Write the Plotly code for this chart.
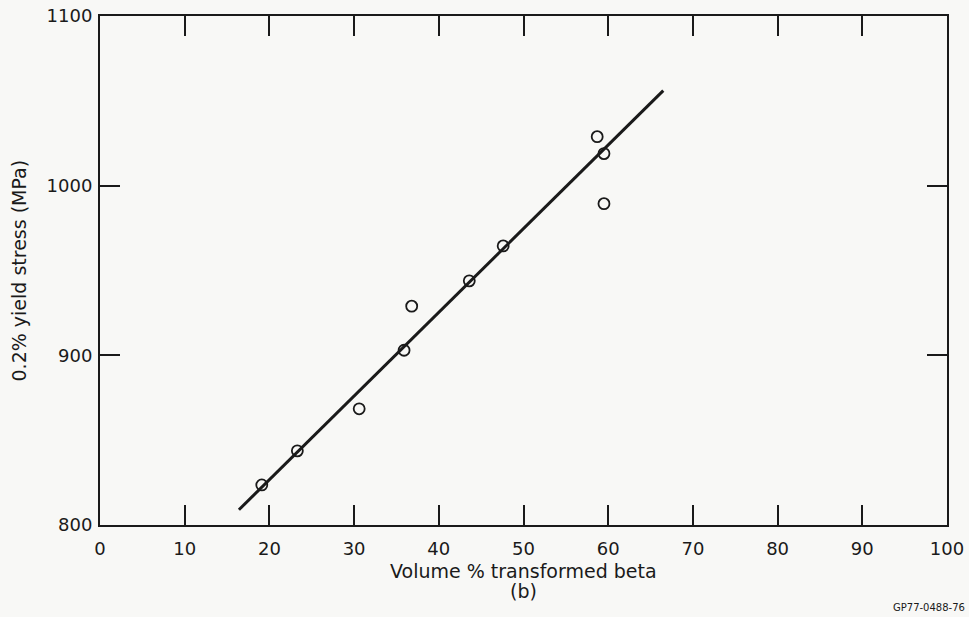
import plotly.graph_objects as go

# Data
vol_beta = [19.1, 23.3, 30.6, 35.9, 36.8, 43.6, 47.6, 58.7, 59.5, 59.5]
yield_stress = [823.6, 843.7, 868.5, 903.0, 929.0, 943.9, 964.5, 1028.9, 1018.9, 989.4]
fit_x = [16.4, 66.5]
fit_y = [809.0, 1056.0]
x_ticks = [0, 10, 20, 30, 40, 50, 60, 70, 80, 90, 100]
y_ticks = [800, 900, 1000, 1100]

FONT = "DejaVu Sans, Open Sans, sans-serif"
INK = "#1a1a1a"
BG = "#f8f8f6"

fig = go.Figure()
fig.add_trace(go.Scatter(x=fit_x, y=fit_y, mode="lines",
                         line=dict(color=INK, width=3), showlegend=False))
fig.add_trace(go.Scatter(x=vol_beta, y=yield_stress, mode="markers",
                         marker=dict(symbol="circle-open", size=11, color=INK,
                                     line=dict(width=1.8, color=INK)),
                         showlegend=False))

axis_common = dict(showgrid=False, zeroline=False, showline=True, linecolor=INK,
                   linewidth=2, mirror="ticks", ticks="inside", ticklen=20,
                   tickwidth=1.5, tickcolor=INK, automargin=False,
                   ticklabeloverflow="allow",
                   tickfont=dict(family=FONT, size=18, color=INK))

fig.update_xaxes(range=[0, 100], tickvals=x_ticks, ticklabelstandoff=6, **axis_common)
fig.update_yaxes(range=[800, 1100], tickvals=y_ticks, ticklabelstandoff=2, **axis_common)

title_font = dict(family=FONT, size=19, color=INK)
fig.add_annotation(text="Volume % transformed beta", xref="paper", yref="paper",
                   x=0.5, y=0, yanchor="middle", yshift=-46, showarrow=False,
                   font=title_font)
fig.add_annotation(text="(b)", xref="paper", yref="paper",
                   x=0.5, y=0, yanchor="middle", yshift=-66, showarrow=False,
                   font=title_font)
fig.add_annotation(text="0.2% yield stress (MPa)", xref="paper", yref="paper",
                   x=0, y=0.5, xanchor="center", xshift=-82, textangle=-90,
                   showarrow=False, font=title_font)
fig.add_annotation(text="GP77-0488-76", xref="paper", yref="paper", x=1, y=0,
                   xanchor="right", yanchor="bottom", xshift=20, yshift=-90,
                   showarrow=False, font=dict(family=FONT, size=10, color=INK))

fig.update_layout(width=969, height=617, margin=dict(l=100, r=22, t=16, b=92),
                  paper_bgcolor=BG, plot_bgcolor=BG)

fig.write_html("out.html", config={"displayModeBar": False},
               post_script="document.body.style.margin='0';document.body.style.overflow='hidden';")
